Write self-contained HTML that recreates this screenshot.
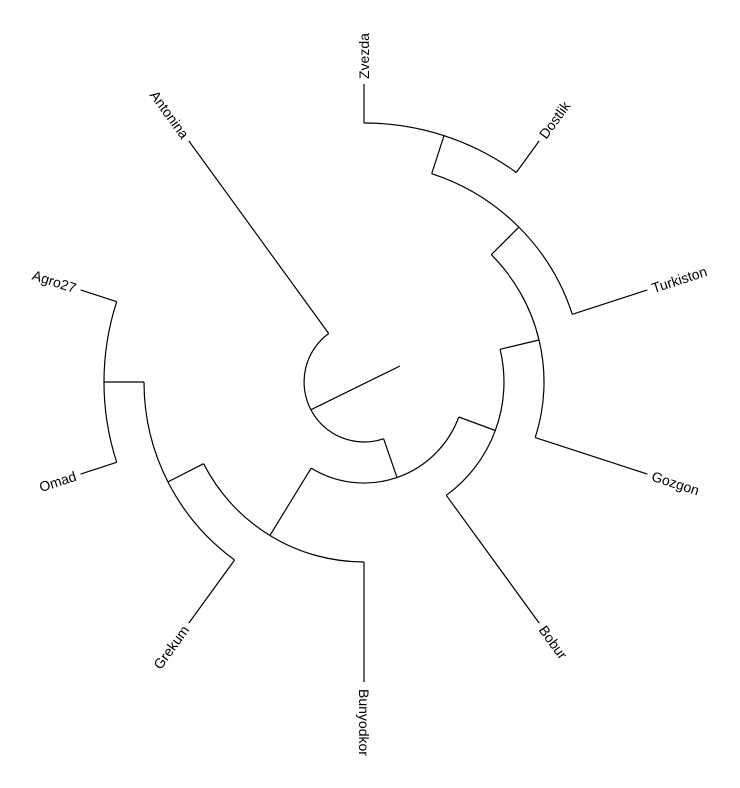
<!DOCTYPE html>
<html><head><meta charset="utf-8"><style>
html,body{margin:0;padding:0;background:#fff;}
svg{display:block;}
text{font-family:"Liberation Sans",sans-serif;font-size:14px;fill:#000;}
</style></head><body>
<svg width="740" height="788" viewBox="0 0 740 788" xmlns="http://www.w3.org/2000/svg">
<g fill="none" stroke="#000" stroke-width="1.2">
<!-- root -->
<line x1="400" y1="366" x2="310.8" y2="409.8"/>
<!-- A arc r=60 -->
<path d="M383.6,438.7 A60,60 0 0,1 328.7,333.5"/>
<line x1="328.7" y1="333.5" x2="188.8" y2="140.9"/>
<line x1="383.6" y1="438.7" x2="397.0" y2="477.4"/>
<!-- B arc r=101 -->
<path d="M458.8,417.0 A101,101 0 0,1 311.2,468.1"/>
<!-- D -->
<line x1="311.2" y1="468.1" x2="269.9" y2="535.5"/>
<path d="M364,562 A180,180 0 0,1 203.6,463.7"/>
<line x1="364" y1="562" x2="364" y2="682"/>
<!-- E -->
<line x1="203.6" y1="463.7" x2="168.0" y2="481.9"/>
<path d="M234.6,560.0 A220,220 0 0,1 144,382"/>
<line x1="234.6" y1="560.0" x2="188.8" y2="623.1"/>
<!-- F -->
<line x1="144" y1="382" x2="104" y2="382"/>
<path d="M116.7,462.3 A260,260 0 0,1 116.7,301.7"/>
<line x1="116.7" y1="462.3" x2="80.6" y2="474.1"/>
<line x1="116.7" y1="301.7" x2="80.6" y2="289.9"/>
<!-- G -->
<line x1="458.8" y1="417.0" x2="495.3" y2="430.5"/>
<path d="M500.1,349.3 A140,140 0 0,1 446.3,495.3"/>
<line x1="446.3" y1="495.3" x2="539.2" y2="623.1"/>
<!-- H -->
<line x1="500.1" y1="349.3" x2="539.0" y2="340.0"/>
<path d="M491.3,254.7 A180,180 0 0,1 535.2,437.6"/>
<line x1="535.2" y1="437.6" x2="647.4" y2="474.1"/>
<!-- I -->
<line x1="491.3" y1="254.7" x2="518.9" y2="227.1"/>
<path d="M431.7,173.7 A219,219 0 0,1 572.3,314.3"/>
<line x1="572.3" y1="314.3" x2="647.4" y2="289.9"/>
<!-- J -->
<line x1="431.7" y1="173.7" x2="444.0" y2="135.7"/>
<path d="M364,123 A259,259 0 0,1 516.3,172.5"/>
<line x1="364" y1="123" x2="364" y2="84"/>
<line x1="516.3" y1="172.5" x2="539.2" y2="140.9"/>
</g>
<g dominant-baseline="central">
<text x="364" y="79" transform="rotate(-90 364 79)">Zvezda</text>
<text x="542.2" y="136.9" transform="rotate(-54 542.2 136.9)">Dostlik</text>
<text x="652.2" y="288.4" transform="rotate(-18 652.2 288.4)">Turkiston</text>
<text x="652.2" y="475.6" transform="rotate(18 652.2 475.6)">Gozgon</text>
<text x="542.2" y="627.1" transform="rotate(54 542.2 627.1)">Bobur</text>
<text x="364" y="689" transform="rotate(90 364 689)">Bunyodkor</text>
<text x="185.8" y="627.1" text-anchor="end" transform="rotate(-54 185.8 627.1)">Grekum</text>
<text x="75.8" y="475.6" text-anchor="end" transform="rotate(-18 75.8 475.6)">Omad</text>
<text x="75.8" y="288.4" text-anchor="end" transform="rotate(18 75.8 288.4)">Agro27</text>
<text x="185.8" y="136.9" text-anchor="end" transform="rotate(54 185.8 136.9)">Antonina</text>
</g>
</svg>
</body></html>
